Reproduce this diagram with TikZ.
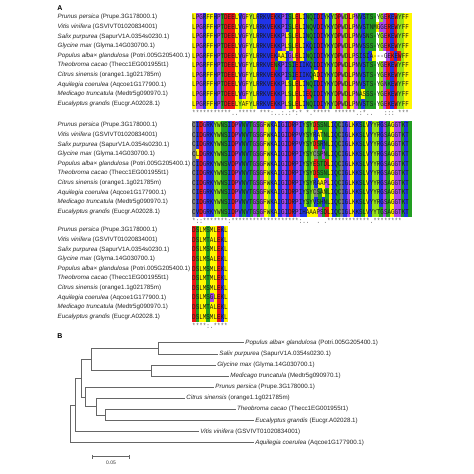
\documentclass[tikz,border=0pt]{standalone}
\usepackage{fontspec}
\setmainfont{Liberation Sans}
\newfontfamily\seqfont{Liberation Mono}[FakeStretch=0.8]
\usepackage{tikz}
\definecolor{cyel}{RGB}{255,248,0}
\definecolor{cred}{RGB}{238,22,22}
\definecolor{cblue}{RGB}{32,52,232}
\definecolor{cgreen}{RGB}{34,158,34}
\definecolor{clime}{RGB}{150,228,24}
\definecolor{cpurp}{RGB}{168,72,238}
\definecolor{cgray}{RGB}{128,128,128}
\colorlet{aaA}{cyel}\colorlet{aaL}{cyel}\colorlet{aaM}{cyel}\colorlet{aaF}{cyel}
\colorlet{aaI}{cblue}\colorlet{aaV}{cblue}\colorlet{aaK}{cblue}\colorlet{aaR}{cblue}\colorlet{aaH}{cblue}
\colorlet{aaD}{cred}\colorlet{aaE}{cred}
\colorlet{aaS}{cgreen}\colorlet{aaT}{cgreen}\colorlet{aaN}{cgreen}\colorlet{aaQ}{cgreen}
\colorlet{aaY}{clime}\colorlet{aaW}{clime}
\colorlet{aaG}{cpurp}\colorlet{aaP}{cpurp}
\colorlet{aaC}{cgray}
\makeatletter
\newcount\seqc
\def\cw{3.6}\def\chh{9.6}
\def\fillrow#1#2#3{\def\rx{#1}\def\ry{#2}\seqc=0 \fillrow@#3\relax}
\def\fillrow@#1{\ifx\relax#1\expandafter\@gobble\else\expandafter\@firstofone\fi{\fillcell{#1}\advance\seqc by 1 \fillrow@}}
\def\fillcell#1{\if-#1\expandafter\@gobble\else\expandafter\@firstofone\fi{\fill[aa#1] ({\rx+\the\seqc*\cw},\ry) rectangle ++(\cw,\chh);}}
\makeatother
\tikzset{
  lab/.style={anchor=west,inner sep=0pt,font=\fontsize{6.2}{7}\selectfont,text=black!85},
  seqtxt/.style={anchor=west,inner sep=0pt,text height=4.6pt,text depth=0pt,font=\seqfont\fontsize{7.4}{8}\selectfont,text=black!90},
  constxt/.style={anchor=base west,inner sep=0pt,font=\seqfont\fontsize{7.4}{8}\selectfont\frenchspacing,text=black!60},
  tree/.style={draw=black!60,line width=0.6pt},
  tlab/.style={anchor=west,inner sep=1.2pt,font=\fontsize{6.2}{7}\selectfont,text=black!85},
  panel/.style={inner sep=0pt,font=\bfseries\fontsize{7}{8}\selectfont}
}
\begin{document}
\begin{tikzpicture}[x=1pt,y=-1pt]
\useasboundingbox[fill=white] (0,0) rectangle (474,474);
\node[panel] (pA) at (60,8.3) {A};
\foreach \i/\sp/\id/\sa/\sb/\sc in {
0/Prunus persica/Prupe.3G178000.1/LPGRFFHPTDEELVGFYLRRKVEKKPISLELINQIDIYKYDPWDLPNVSTS-YGEKEWYFF/CIDGRKYWNSIDPVNVTGSGFWKAIGIDRPIYSYDSSNLIQCIGLKKSLVYYRGSAGGTKT/DSLMSMLEKL,
1/Vitis vinifera/GSVIVT01020834001/LPGRFFHPTDEELVGFYLRRKVEKKPISLELINQVDIYKYDPWDLPNVSTNMGGEREWYFF/CIDGRKYWNSIDPVNVTGSGFWKAIGIDRPVYSYRATNLIQCIGLKKSLVYYRGSAGGTKT/DSLMTALEKL,
2/Salix purpurea/SapurV1A.0354s0230.1/LPGRFFHPTDEELVGFYLRRKVEKKPLSLELINQIDIYKYDPWDLPNVSNS-YGEKEWYFF/CIDGRKYWNSIDPVNVTGSGFWKAIGIDRPVYSYDSRNLIQCIGLKKSLVYYRGSAGGTKT/DSLMSMLEKL,
3/Glycine max/Glyma.14G030700.1/LPGRFFHPTDEELVGFYLRRKVEKKPLSLELIKQIDIYKYDPWDLPNVSSS-YGEKEWYFF/CLDGRKYWNSIDPVNVTGSGFWKAIGIDRPIYSYCSPNLIQCIGLKKSLVYYRGSAGGTKT/DSLMSALEKL,
4/Populus alba× glandulosa/Potri.005G205400.1/LPGRFFHPTDEELVGFYLRRKVEKAAIGLELINQIDIYKYDPWDLPSISIA---GEKEWFF/CIDGRKYWNSVDPVNVTGSGFWKAIGIDRPIYSYESTDLIQCIGLKKSLVYYRGSAGGTKT/DSLMSMLEKL,
5/Theobroma cacao/Thecc1EG001955t1/LPGRFFHPTDEELVGFYLRRKVENKPISIEIIKQIDIYKYDPWDLPNVSTS-YGEKEWYFF/CIDGRKYWNSIDPVNVTGSGFWKAIGIDRPIYSYDSSNLIQCIGLKKSLVYYRGSAGGTKT/DSLMTMLEKL,
6/Citrus sinensis/orange1.1g021785m/LPGRFFHPTDEELVGFYLRRKVEKKPISIEIIKQADIYKYDPWDLPNVSTS-YGEKEWYFF/CIDGRKYWNSIDPVNVTGSGFWKAIGIDRPIYSYRAAPLIQCIGLKKSLVYYRGSAGGTKT/DSLMSMLEKL,
7/Aquilegia coerulea/Aqcoe1G177900.1/LPGRFFHPTDEELVGFYLRRKVEKKPLSLELINQIDIYKYDPWDLPNVSTS-YGNKEWYFF/CIEGRKYWNSIDPVNVTGSGFWKAIGIDRPIYSYCSANLIQCIGLKKSLVYYRGSAGGTKT/DSLMSGLEKL,
8/Medicago truncatula/Medtr5g090970.1/LPGRFFHPTDEELVGFYLRRKVEKKPLSLELIEQIDIYKYDPWDLPNASSS-YGEKEWYFF/CIDGRKYWNSIDPVNVTGSGFWKAIGIDRPIYSYVSHNLIQCIGLKKSLVYYRGSAGGTKT/DSLMTALEKL,
9/Eucalyptus grandis/Eucgr.A02028.1/LPGRFFHPTDEELYAFYLRRKVEKKPLSLELINQIDIYKYDPWDLPNVSTS-YGEKEWYFF/CVDGRKYWNSIDPVNVTGSGFWKAIGIDRPIHAAAPSDLIQCIGLKKSLVYYTGSAGGTKT/DSLMSMLEKL}{
  \pgfmathsetmacro\ya{12.5+9.6*\i}
  \pgfmathsetmacro\yb{120.5+9.6*\i}
  \pgfmathsetmacro\yc{225.5+9.6*\i}
  \edef\tmp{\noexpand\fillrow{192}{\ya}{\sa}\noexpand\fillrow{192}{\yb}{\sb}\noexpand\fillrow{192}{\yc}{\sc}}\tmp
  \node[lab] (la\i) at (57.5,\ya+4.8) {\textit{\sp} (\id)};
  \node[lab] (lb\i) at (57.5,\yb+4.8) {\textit{\sp} (\id)};
  \node[lab] (lc\i) at (57.5,\yc+4.8) {\textit{\sp} (\id)};
  \node[seqtxt] (sa\i) at (192,\ya+4.8) {\sa};
  \node[seqtxt] (sb\i) at (192,\yb+4.8) {\sb};
  \node[seqtxt] (sc\i) at (192,\yc+4.8) {\sc};
}
\node[constxt] (ca) at (192,115.8) {***********..*****~***:..:.:*:*~*.*****~******.:*..~~~:::~***};
\node[constxt] (cb) at (192,223.3) {*::*******:*******************:..~~.~.************.********};
\node[constxt] (cc) at (192,328.8) {****:.****};
% panel B tree
\node[panel] (pB) at (60,335.7) {B};
\coordinate (lpop) at (244,342.7);
\coordinate (lsal) at (218,353.8);
\coordinate (lgly) at (216,364.9);
\coordinate (lmed) at (229,376.0);
\coordinate (lpru) at (214,387.1);
\coordinate (lcit) at (185,398.2);
\coordinate (lthe) at (235.7,409.3);
\coordinate (leuc) at (254,420.4);
\coordinate (lvit) at (199,431.5);
\coordinate (laqu) at (254,442.6);
\coordinate (n5) at (158,348.25);
\coordinate (n6) at (151,370.45);
\coordinate (n4) at (91,359.35);
\coordinate (n9) at (105.7,414.85);
\coordinate (n8) at (96,406.5);
\coordinate (n7) at (85,396.8);
\coordinate (n3) at (81,378.1);
\coordinate (n2) at (75.7,404.8);
\coordinate (n1) at (70,423.7);
\draw[tree] (n5) |- (lpop); \draw[tree] (n5) |- (lsal);
\draw[tree] (n6) |- (lgly); \draw[tree] (n6) |- (lmed);
\draw[tree] (n4) |- (n5); \draw[tree] (n4) |- (n6);
\draw[tree] (n9) |- (lthe); \draw[tree] (n9) |- (leuc);
\draw[tree] (n8) |- (lcit); \draw[tree] (n8) |- (n9);
\draw[tree] (n7) |- (lpru); \draw[tree] (n7) |- (n8);
\draw[tree] (n3) |- (n4); \draw[tree] (n3) |- (n7);
\draw[tree] (n2) |- (n3); \draw[tree] (n2) |- (lvit);
\draw[tree] (n1) |- (n2); \draw[tree] (n1) |- (laqu);
\node[tlab] (tpop) at (lpop) {\textit{Populus alba× glandulosa} (Potri.005G205400.1)};
\node[tlab] (tsal) at (lsal) {\textit{Salix purpurea} (SapurV1A.0354s0230.1)};
\node[tlab] (tgly) at (lgly) {\textit{Glycine max} (Glyma.14G030700.1)};
\node[tlab] (tmed) at (lmed) {\textit{Medicago truncatula} (Medtr5g090970.1)};
\node[tlab] (tpru) at (lpru) {\textit{Prunus persica} (Prupe.3G178000.1)};
\node[tlab] (tcit) at (lcit) {\textit{Citrus sinensis} (orange1.1g021785m)};
\node[tlab] (tthe) at (lthe) {\textit{Theobroma cacao} (Thecc1EG001955t1)};
\node[tlab] (teuc) at (leuc) {\textit{Eucalyptus grandis} (Eucgr.A02028.1)};
\node[tlab] (tvit) at (lvit) {\textit{Vitis vinifera} (GSVIVT01020834001)};
\node[tlab] (taqu) at (laqu) {\textit{Aquilegia coerulea} (Aqcoe1G177900.1)};
% scale bar
\coordinate (sb1) at (92.7,456.7);
\coordinate (sb2) at (129,456.7);
\draw[tree] (sb1) -- (sb2);
\draw[tree] (sb1) ++(0,-1.8) -- ++(0,3.6);
\draw[tree] (sb2) ++(0,-1.8) -- ++(0,3.6);
\node[inner sep=0pt,font=\fontsize{5}{6}\selectfont,text=black!80] (sbl) at (111,463) {0.05};
\end{tikzpicture}
\end{document}
